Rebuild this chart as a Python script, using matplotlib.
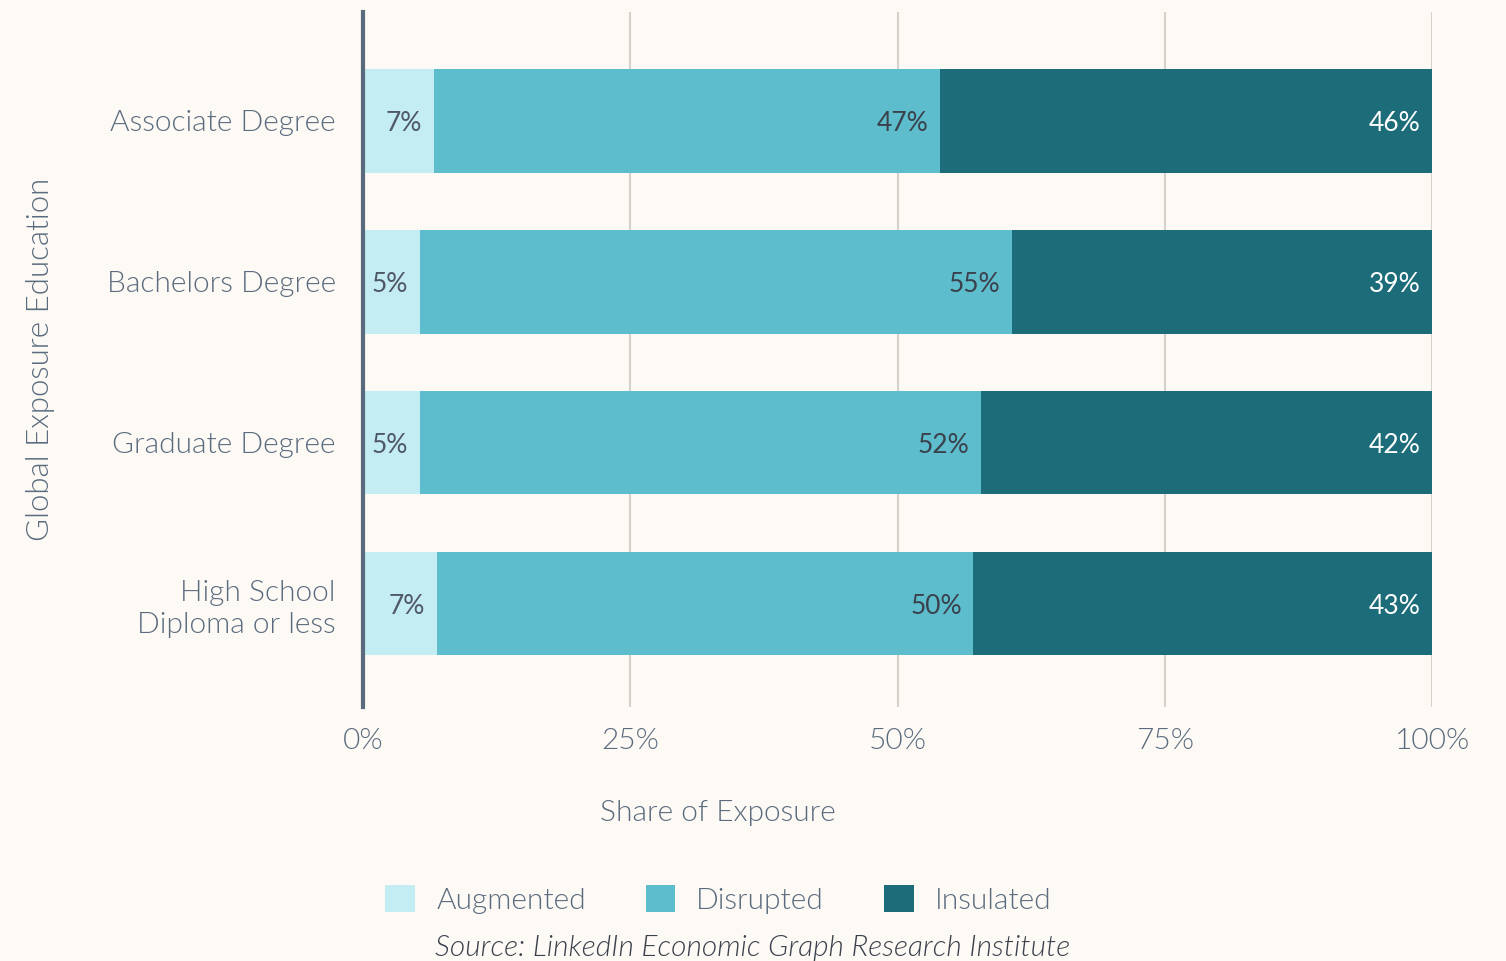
import matplotlib.pyplot as plt
import numpy as np

categories = ['Associate Degree', 'Bachelors Degree', 'Graduate Degree', 'High School\nDiploma or less']
augmented = [6.6, 5.3, 5.3, 6.9]
disrupted = [47.4, 55.4, 52.5, 50.2]
insulated = [46.0, 39.3, 42.2, 42.9]
shown_aug = ['7%', '5%', '5%', '7%']
shown_dis = ['47%', '55%', '52%', '50%']
shown_ins = ['46%', '39%', '42%', '43%']

bg = '#fdf9f4'
txt = '#5a6b7e'
c_aug = '#c3ecf3'
c_dis = '#5ebdcc'
c_ins = '#1c6c79'
W = 300  # Lato Light

plt.rcParams['font.family'] = ['Lato', 'DejaVu Sans']

fig = plt.figure(figsize=(15.06, 9.61), dpi=100, facecolor=bg)
ax = fig.add_axes([0.241, 0.264, 0.71, 0.7235])
ax.set_facecolor(bg)

y = np.arange(len(categories))
h = 0.645
aug = np.array(augmented)
dis = np.array(disrupted)
ins = np.array(insulated)

ax.barh(y, aug, height=h, color=c_aug, label='Augmented', zorder=3)
ax.barh(y, dis, left=aug, height=h, color=c_dis, label='Disrupted', zorder=3)
ax.barh(y, ins, left=aug + dis, height=h, color=c_ins, label='Insulated', zorder=3)

for i in range(len(categories)):
    ends = [aug[i], aug[i] + dis[i], aug[i] + dis[i] + ins[i]]
    labs = [shown_aug[i], shown_dis[i], shown_ins[i]]
    cols = ['#505866', '#3a414c', 'white']
    for e, l, c in zip(ends, labs, cols):
        ax.annotate(l, xy=(e, y[i]), xytext=(-8.5, -2), textcoords='offset points',
                    ha='right', va='center', fontsize=19, color=c, zorder=4)

ax.set_xlim(0, 100)
ax.set_ylim(3.646, -0.677)
ax.set_xticks([0, 25, 50, 75, 100])
ax.set_xticklabels(['0%', '25%', '50%', '75%', '100%'])
ax.set_yticks(y)
ax.set_yticklabels(categories, linespacing=1.3)
ax.tick_params(axis='x', length=0, labelsize=21.5, labelcolor=txt, pad=15)
ax.tick_params(axis='y', length=0, labelsize=21.5, labelcolor=txt, pad=19.5)
for lab in ax.get_yticklabels() + ax.get_xticklabels():
    lab.set_fontweight(W)

ax.grid(axis='x', color='#d5d1cb', linewidth=1.5, zorder=0)
for s in ['top', 'right', 'bottom']:
    ax.spines[s].set_visible(False)
ax.spines['left'].set_color('#5a6a7d')
ax.spines['left'].set_linewidth(3)
ax.spines['left'].set_zorder(5)

fig.text(0.477, 0.154, 'Share of Exposure', ha='center', va='center',
         fontsize=21.5, color=txt, fontweight=W)
ax.set_ylabel('Global Exposure Education', fontsize=22.5, color=txt, fontweight=W)
ax.yaxis.set_label_coords(-0.288, 0.5)

leg = fig.legend(loc='center', bbox_to_anchor=(0.477, 0.064), ncol=3, frameon=False,
                 fontsize=21.5, handlelength=1.0, handleheight=1.0, columnspacing=2.0,
                 handletextpad=0.7, labelcolor=txt)
for t in leg.get_texts():
    t.set_fontweight(W)

fig.text(0.5, 0.014, 'Source: LinkedIn Economic Graph Research Institute', ha='center', va='center',
         fontsize=21.5, style='italic', color='#3a414c', fontweight=W)

fig.savefig('out.png', dpi=100, facecolor=bg)
